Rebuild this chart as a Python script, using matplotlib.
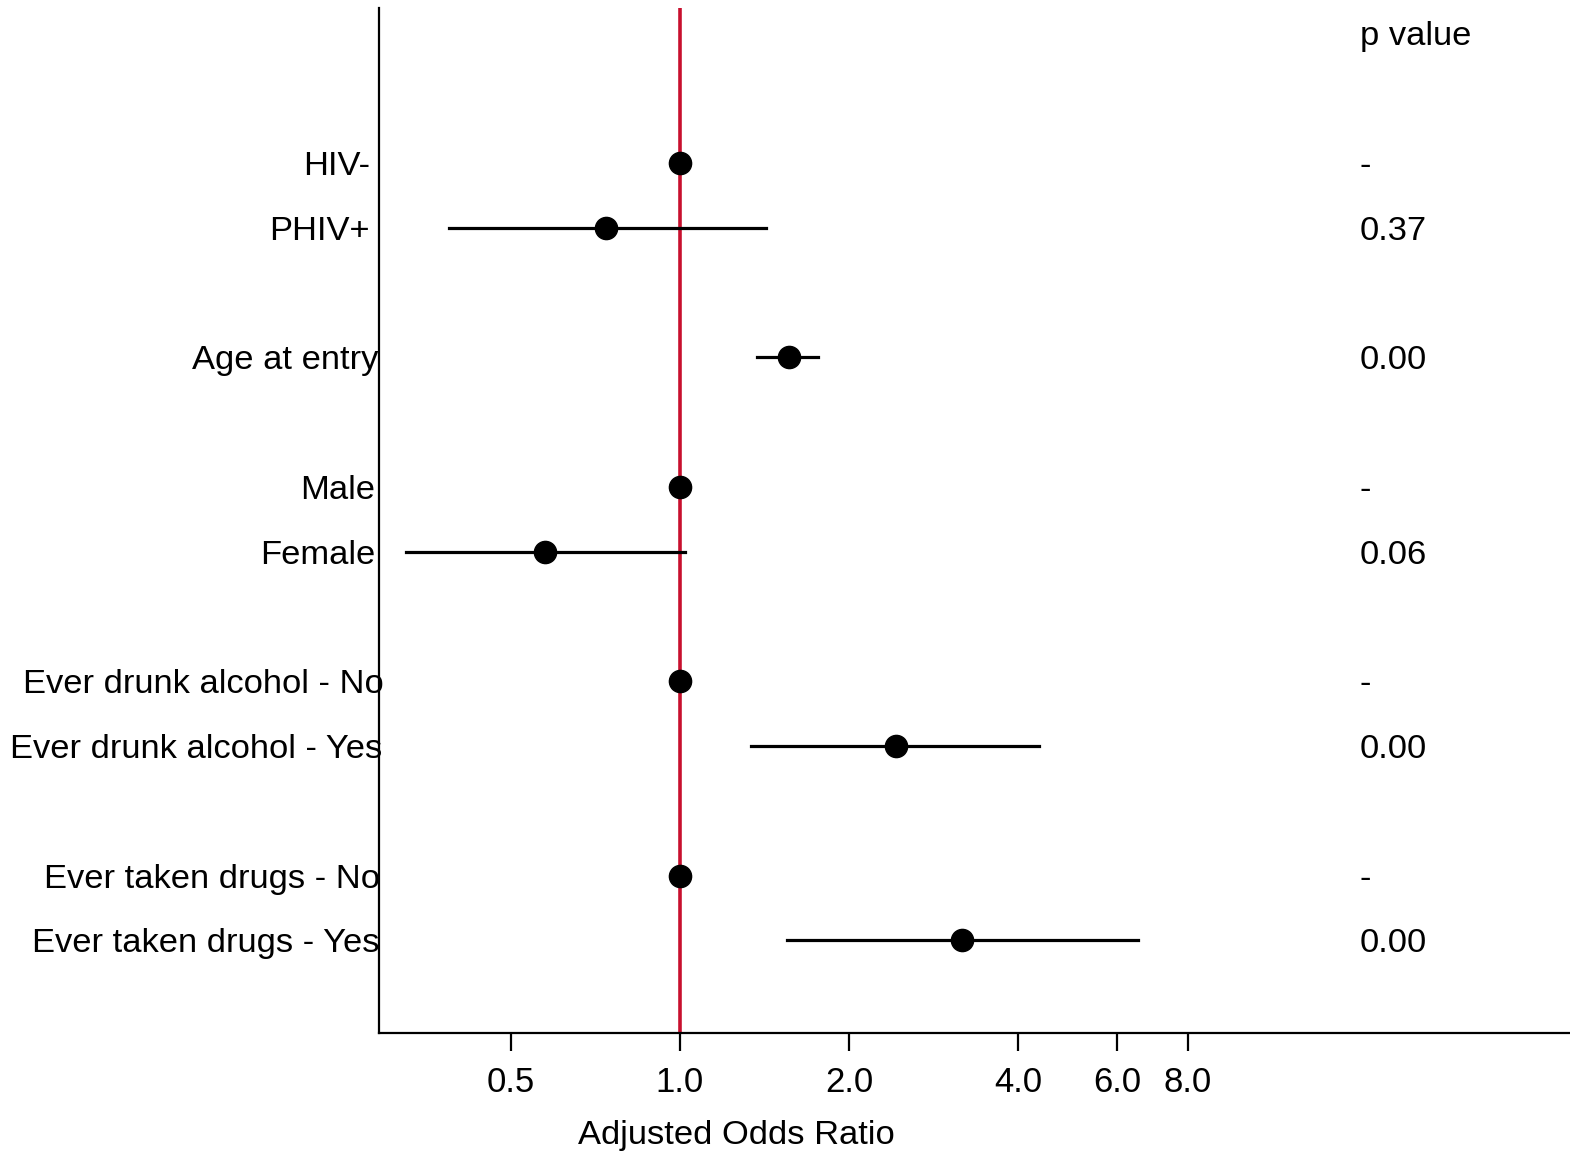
import matplotlib.pyplot as plt
from matplotlib.ticker import FixedLocator, NullLocator, FixedFormatter

plt.rcParams["font.family"] = ["Liberation Sans", "DejaVu Sans"]

labels = ["HIV-", "PHIV+", "Age at entry", "Male", "Female",
          "Ever drunk alcohol - No", "Ever drunk alcohol - Yes",
          "Ever taken drugs - No", "Ever taken drugs - Yes"]
rows = [0, 1, 3, 5, 6, 8, 9, 11, 12]
odds = [1.0, 0.74, 1.56, 1.0, 0.575, 1.0, 2.42, 1.0, 3.17]
ci_low = [None, 0.388, 1.37, None, 0.326, None, 1.34, None, 1.55]
ci_high = [None, 1.42, 1.76, None, 1.02, None, 4.36, None, 6.52]
pvals = ["-", "0.37", "0.00", "-", "0.06", "-", "0.00", "-", "0.00"]
xticks = [0.5, 1.0, 2.0, 4.0, 6.0, 8.0]

# small nudges (points) so the labels end where the original ones do
label_nudge = [-7, -7, -1, -3, -3, 3, 2, 0, 0]

fig = plt.figure(figsize=(15.7, 11.54), dpi=100)
ax = fig.add_axes([0.2414, 0.1049, 0.7586, 0.8882])
ax.set_xscale("log")
ax.set_xlim(0.2915, 38.3)
ax.set_ylim(13.43, -2.39)

ax.axvline(1.0, color="#C8102E", lw=2.6, zorder=1)

for y, o, lo, hi in zip(rows, odds, ci_low, ci_high):
    if lo is not None:
        ax.plot([lo, hi], [y, y], color="black", lw=2.3, zorder=2)
    ax.plot(o, y, "o", color="black", ms=16, zorder=3)

for y, lab, dx in zip(rows, labels, label_nudge):
    ax.annotate(lab, (0.2915, y), xytext=(dx + 0.5, 0), textcoords="offset points",
                ha="right", va="center_baseline", fontsize=24.8)

ax.annotate("p value", (16.2, -2), ha="left", va="center_baseline", fontsize=24.8)
for y, p in zip(rows, pvals):
    ax.annotate(p, (16.2, y), ha="left", va="center_baseline", fontsize=24.8)

ax.xaxis.set_major_locator(FixedLocator(xticks))
ax.xaxis.set_major_formatter(FixedFormatter([f"{t:.1f}" for t in xticks]))
ax.xaxis.set_minor_locator(NullLocator())
ax.tick_params(axis="x", direction="out", length=13, width=1.6, labelsize=25, pad=11)
ax.set_yticks([])
ax.set_xlabel("Adjusted Odds Ratio", fontsize=24.8)
ax.xaxis.set_label_coords(0.3003, -0.085)

for s in ["top", "right"]:
    ax.spines[s].set_visible(False)
for s in ["left", "bottom"]:
    ax.spines[s].set_linewidth(1.6)

fig.savefig("out.png", dpi=100)
